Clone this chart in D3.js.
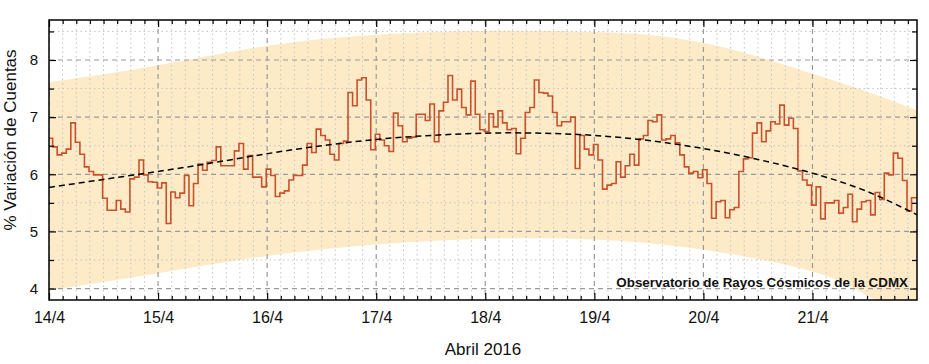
<!DOCTYPE html>
<html>
<head>
<meta charset="utf-8">
<script src="https://cdn.jsdelivr.net/npm/d3@7"></script>
<style>
  html, body { margin: 0; padding: 0; background: #fff; }
  svg { display: block; font-family: "Liberation Sans", Arial, sans-serif; }
</style>
</head>
<body>
<svg id="chart" width="929" height="364"></svg>
<script>
// ---- Data ----
// Hourly % count variation, starting 14/4/2016 00:00
const hourlyValues = [
  6.63,6.48,6.34,6.37,6.44,6.90,6.56,6.35,6.13,6.05,5.99,5.99,5.58,5.37,5.37,5.54,5.39,5.34,5.92,5.95,
  6.25,5.99,5.87,5.86,5.76,5.85,5.14,5.69,5.59,5.67,5.98,5.45,5.84,6.18,6.07,6.21,6.24,6.48,6.15,6.15,
  6.15,6.41,6.54,6.09,6.33,5.95,5.95,5.78,6.09,5.98,5.61,5.67,5.71,5.90,5.98,5.98,6.16,6.54,6.38,6.79,
  6.68,6.60,6.35,6.25,6.54,6.58,7.43,7.20,7.65,7.69,7.30,6.43,6.70,6.60,6.50,6.40,7.07,6.85,6.57,6.63,
  6.65,7.05,7.05,6.94,7.23,6.57,7.11,7.26,7.73,7.30,7.49,7.17,7.04,7.63,7.05,6.78,6.75,7.06,6.83,7.11,
  6.90,6.78,6.80,6.36,6.63,7.08,7.17,7.65,7.43,7.42,7.37,7.08,6.85,6.92,6.92,7.00,6.10,6.68,6.44,6.34,
  6.52,6.25,5.74,5.81,5.84,6.22,5.95,6.15,6.35,6.16,6.62,6.68,6.94,6.92,7.04,6.60,6.62,6.68,6.55,6.34,
  6.13,6.02,6.05,5.94,6.08,5.84,5.23,5.52,5.54,5.24,5.38,5.42,6.05,6.27,6.29,6.72,6.90,6.57,6.76,6.92,
  6.88,7.21,6.86,6.98,6.80,6.06,5.90,5.81,5.46,5.78,5.22,5.50,5.50,5.54,5.32,5.42,5.65,5.17,5.39,5.52,
  5.54,5.29,5.68,5.56,6.02,5.99,6.37,6.28,5.89,5.36,5.59
];
// Trend (dashed) curve, days since 14/4
const trendDays   = [0, 0.5, 1, 1.5, 2, 2.5, 3, 3.5, 4, 4.5, 5, 5.5, 6, 6.5, 7, 7.5, 7.96];
const trendValues = [5.77,5.91,6.05,6.20,6.36,6.50,6.61,6.68,6.72,6.72,6.68,6.59,6.45,6.26,6.02,5.70,5.29];
// Shaded band, days since 14/4
const bandDays  = [0, 1, 2, 3, 4, 5, 6, 7, 7.5, 7.96];
const bandUpper = [7.61,7.91,8.25,8.44,8.51,8.49,8.30,7.76,7.45,7.12];
const bandLower = [3.97,4.27,4.57,4.77,4.87,4.86,4.68,4.30,3.88,3.45];
// Axis ticks
const dayLabels  = ["14/4","15/4","16/4","17/4","18/4","19/4","20/4","21/4"];
const yTicks     = [4, 5, 6, 7, 8];
const yMinor     = [4.5, 5.5, 6.5, 7.5, 8.5];
const xLabel     = "Abril 2016";
const yLabel     = "% Variación de Cuentas";
const credit     = "Observatorio de Rayos Cósmicos de la CDMX";

// ---- Layout ----
const L = 49, R = 917, T = 20, B = 300;
const totalHours = 191;
const svg = d3.select("#chart");

const x = d3.scaleLinear().domain([0, totalHours]).range([L, R]);
const y = d3.scaleLinear().domain([3.8, 8.7]).range([B, T]);

svg.append("defs").append("clipPath").attr("id", "plotclip")
  .append("rect").attr("x", L).attr("y", T).attr("width", R - L).attr("height", B - T);

const plot = svg.append("g").attr("clip-path", "url(#plotclip)");

// Band
const band = bandDays.map((d, i) => ({ h: d * 24, hi: bandUpper[i], lo: bandLower[i] }));
plot.append("path")
  .datum(band)
  .attr("fill", "#fdebc8")
  .attr("d", d3.area().curve(d3.curveNatural)
    .x(d => x(d.h)).y0(d => y(d.lo)).y1(d => y(d.hi)));

// Grid
const majorHours = dayLabels.map((_, i) => i * 24);
const minorHours = d3.range(0, totalHours + 1, 3).filter(h => h % 24 !== 0);
const grid = plot.append("g");
grid.selectAll(".vminor").data(minorHours).join("line")
  .attr("x1", d => x(d)).attr("x2", d => x(d)).attr("y1", T).attr("y2", B)
  .attr("stroke", "#c4c4c4").attr("stroke-width", 1).attr("stroke-dasharray", "1.5,3");
grid.selectAll(".hminor").data(yMinor).join("line")
  .attr("x1", L).attr("x2", R).attr("y1", d => y(d)).attr("y2", d => y(d))
  .attr("stroke", "#c4c4c4").attr("stroke-width", 1).attr("stroke-dasharray", "1.5,3");
grid.selectAll(".vmajor").data(majorHours).join("line")
  .attr("x1", d => x(d)).attr("x2", d => x(d)).attr("y1", T).attr("y2", B)
  .attr("stroke", "#9a9a9a").attr("stroke-width", 1.2).attr("stroke-dasharray", "5,4");
grid.selectAll(".hmajor").data(yTicks).join("line")
  .attr("x1", L).attr("x2", R).attr("y1", d => y(d)).attr("y2", d => y(d))
  .attr("stroke", "#9a9a9a").attr("stroke-width", 1.2).attr("stroke-dasharray", "5,4");

// Step series
const pts = hourlyValues.map((v, i) => ({ h: i === 0 ? 0 : i - 0.2, v }));
pts.push({ h: totalHours, v: hourlyValues[hourlyValues.length - 1] });
plot.append("path")
  .datum(pts)
  .attr("fill", "none")
  .attr("stroke", "#c8512b")
  .attr("stroke-width", 1.6)
  .attr("d", d3.line().curve(d3.curveStepAfter).x(d => x(d.h)).y(d => y(d.v)));

// Trend dashed
plot.append("path")
  .datum(trendDays.map((d, i) => ({ h: d * 24, v: trendValues[i] })))
  .attr("fill", "none")
  .attr("stroke", "#000")
  .attr("stroke-width", 1.5)
  .attr("stroke-dasharray", "6,4")
  .attr("d", d3.line().curve(d3.curveNatural).x(d => x(d.h)).y(d => y(d.v)));

// Axes (inward ticks)
const fmtDay = h => dayLabels[Math.round(h / 24)];
svg.append("g").attr("transform", `translate(0,${B})`)
  .call(d3.axisBottom(x).tickValues(minorHours).tickSize(-4).tickFormat(""))
  .call(g => g.select(".domain").remove());
svg.append("g").attr("transform", `translate(0,${B})`)
  .call(d3.axisBottom(x).tickValues(majorHours).tickSize(-7).tickPadding(12).tickFormat(fmtDay))
  .call(g => g.select(".domain").remove())
  .call(g => g.selectAll("text").attr("font-size", 16).attr("fill", "#111").attr("font-family", "Liberation Sans, Arial, sans-serif"));
svg.append("g").attr("transform", `translate(0,${T})`)
  .call(d3.axisTop(x).tickValues(minorHours).tickSize(-4).tickFormat(""))
  .call(g => g.select(".domain").remove());
svg.append("g").attr("transform", `translate(0,${T})`)
  .call(d3.axisTop(x).tickValues(majorHours).tickSize(-7).tickFormat(""))
  .call(g => g.select(".domain").remove());

svg.append("g").attr("transform", `translate(${L},0)`)
  .call(d3.axisLeft(y).tickValues(yMinor).tickSize(-5).tickFormat(""))
  .call(g => g.select(".domain").remove());
svg.append("g").attr("transform", `translate(${L},0)`)
  .call(d3.axisLeft(y).tickValues(yTicks).tickSize(-7).tickPadding(11).tickFormat(d3.format("d")))
  .call(g => g.select(".domain").remove())
  .call(g => g.selectAll("text").attr("font-size", 15).attr("fill", "#111").attr("font-family", "Liberation Sans, Arial, sans-serif"));
svg.append("g").attr("transform", `translate(${R},0)`)
  .call(d3.axisRight(y).tickValues(yMinor).tickSize(-5).tickFormat(""))
  .call(g => g.select(".domain").remove());
svg.append("g").attr("transform", `translate(${R},0)`)
  .call(d3.axisRight(y).tickValues(yTicks).tickSize(-7).tickFormat(""))
  .call(g => g.select(".domain").remove());
svg.selectAll(".tick line").attr("stroke", "#000").attr("stroke-width", 1.2);

// Frame
svg.append("rect").attr("x", L).attr("y", T).attr("width", R - L).attr("height", B - T)
  .attr("fill", "none").attr("stroke", "#000").attr("stroke-width", 1.5);

// Credit
svg.append("text").attr("x", 908).attr("y", 287)
  .attr("text-anchor", "end").attr("font-size", 13.4).attr("font-weight", "bold")
  .attr("fill", "#111").text(credit);

// Axis titles
svg.append("text").attr("x", (L + R) / 2).attr("y", 355)
  .attr("text-anchor", "middle").attr("font-size", 17).attr("fill", "#111").text(xLabel);
svg.append("text").attr("transform", "translate(15.5,140) rotate(-90)")
  .attr("text-anchor", "middle").attr("font-size", 17).attr("fill", "#111").text(yLabel);
</script>
</body>
</html>
